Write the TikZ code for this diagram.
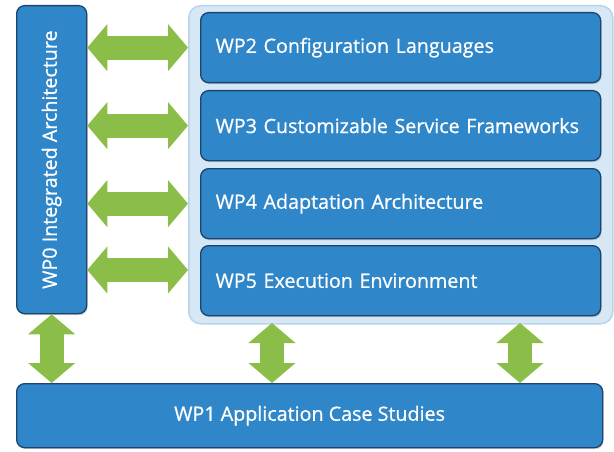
\documentclass[tikz,border=0pt]{standalone}
\usepackage{fontspec}
\setmainfont{Open Sans}
\newfontfamily\wpfam[RawFeature={embolden=0.7}]{Open Sans}
\usetikzlibrary{arrows.meta,shadows,positioning}
\definecolor{boxblue}{RGB}{47,134,200}
\definecolor{boxedge}{RGB}{28,68,108}
\definecolor{contfill}{RGB}{214,232,246}
\definecolor{contedge}{RGB}{184,212,235}
\definecolor{agreen}{RGB}{138,190,72}
\newcommand\wpfont{\wpfam\fontsize{19.7}{22}\selectfont}
\begin{document}
\begin{tikzpicture}[x=1pt,y=-1pt,
  wpbox/.style={draw=boxedge,line width=1.3pt,fill=boxblue,rounded corners=8pt,
    text=white,font=\wpfont,inner sep=0pt,
    drop shadow={shadow xshift=1pt,shadow yshift=-1.5pt,opacity=0.35}},
  rowbox/.style={wpbox,minimum width=400pt,minimum height=70pt,anchor=north west,
    text width=384pt,align=left},
  garrow/.style={draw=agreen,line width=24pt,
    {Triangle[length=20pt,width=46pt]}-{Triangle[length=20pt,width=46pt]}}
]
\useasboundingbox (0,0) rectangle (614,452);
% container
\node[draw=contedge,line width=1.5pt,fill=contfill,rounded corners=12pt,
  minimum width=424pt,minimum height=318pt,inner sep=0pt,anchor=north west] (cont) at (188,5) {};
% WP0
\node[wpbox,minimum width=70pt,minimum height=308pt,anchor=north west] (wp0) at (16,5) {};
\node[text=white,font=\wpfont,rotate=90] (wp0t) at (wp0.center) {WP0 Integrated Architecture};
% WP2..WP5
\node[rowbox] (wp2) at (200,12) {\hspace*{7pt}WP2 Configuration Languages};
\node[rowbox] (wp3) at (200,90) {\hspace*{7pt}WP3 Customizable Service Frameworks};
\node[rowbox] (wp4) at (200,168) {\hspace*{7pt}WP4 Adaptation Architecture};
\node[rowbox] (wp5) at (200,245) {\hspace*{7pt}WP5 Execution Environment};
% WP1
\node[wpbox,minimum width=586pt,minimum height=64pt,anchor=north west] (wp1) at (16,383) {WP1 Application Case Studies};
% horizontal arrows
\draw[garrow] (wp0.east |- wp2.west) -- (cont.west |- wp2.west);
\draw[garrow] (wp0.east |- wp3.west) -- (cont.west |- wp3.west);
\draw[garrow] (wp0.east |- wp4.west) -- (cont.west |- wp4.west);
\draw[garrow] (wp0.east |- 0,270) -- (cont.west |- 0,270);
% vertical arrows
\draw[garrow] (wp0.south) -- (wp0.south |- wp1.north);
\coordinate (c1) at (272,323);
\coordinate (c2) at (520,323);
\draw[garrow] (c1) -- (c1 |- wp1.north);
\draw[garrow] (c2) -- (c2 |- wp1.north);
\end{tikzpicture}
\end{document}
